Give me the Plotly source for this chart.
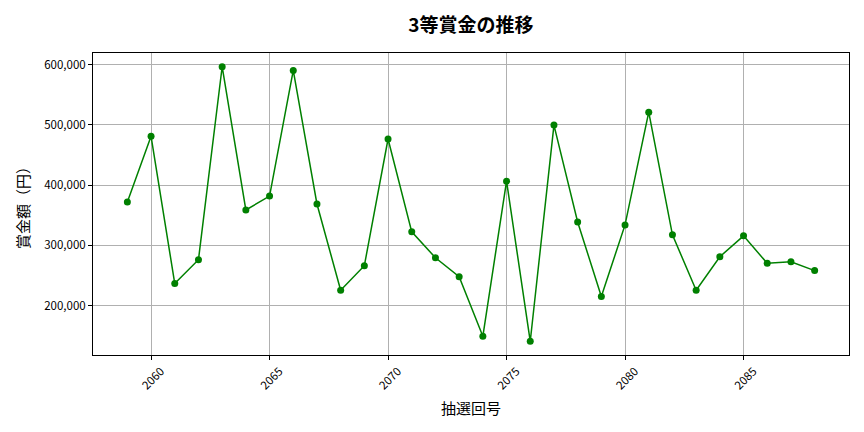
import plotly.graph_objects as go

draws = list(range(2059, 2089))
prize = [372000, 481000, 236400, 276000, 596700, 358700, 381800, 590600, 368600, 225300,
         266100, 476600, 322300, 279300, 247900, 148800, 406600, 140500, 499700, 338800,
         214900, 333900, 521200, 317400, 225300, 281000, 315700, 270000, 272700, 257900]

title_text = "3等賞金の推移"
x_title = "抽選回号"
y_title = "賞金額（円）"

font_family = "Noto Sans CJK JP"

fig = go.Figure()
fig.add_trace(go.Scatter(
    x=draws, y=prize, mode="lines+markers",
    line=dict(color="#008000", width=1.5),
    marker=dict(color="#008000", size=7),
    showlegend=False,
))

fig.update_layout(
    width=864, height=432,
    margin=dict(l=93, r=15, t=53, b=77),
    paper_bgcolor="white", plot_bgcolor="white",
    font=dict(family=font_family, color="black", size=11.5),
    title=dict(text=title_text, x=0.545, xanchor="center", y=0.942, yanchor="middle",
               font=dict(size=19, family=font_family, color="black", weight=600)),
)
fig.update_xaxes(
    range=[2057.55, 2089.45],
    tickmode="array", tickvals=[2060, 2065, 2070, 2075, 2080, 2085],
    ticktext=["2060", "2065", "2070", "2075", "2080", "2085"],
    tickangle=-45, ticklabelshift=10,
    showgrid=True, gridcolor="#b0b0b0", gridwidth=0.8,
    showline=True, linecolor="black", linewidth=1, mirror=True,
    ticks="outside", ticklen=4, tickcolor="black",
    zeroline=False,
    title=dict(text=x_title, font=dict(size=15, family=font_family), standoff=12),
)
fig.update_yaxes(
    range=[117700, 619500],
    tickmode="array", tickvals=[200000, 300000, 400000, 500000, 600000],
    tickformat=",d",
    showgrid=True, gridcolor="#b0b0b0", gridwidth=0.8,
    showline=True, linecolor="black", linewidth=1, mirror=True,
    ticks="outside", ticklen=4, tickcolor="black",
    zeroline=False,
    title=dict(text=y_title, font=dict(size=15, family=font_family), standoff=10),
)

fig.write_html("out.html", config={"displayModeBar": False},
               post_script="document.body.style.margin='0';document.body.style.padding='0';")
